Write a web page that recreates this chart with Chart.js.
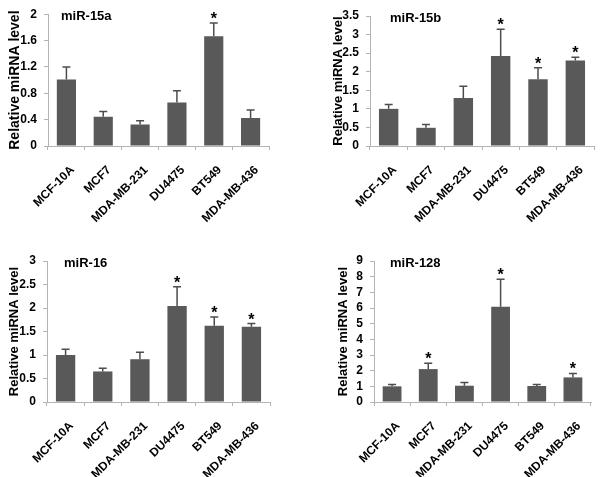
<!DOCTYPE html>
<html>
<head>
<meta charset="utf-8">
<script src="https://cdn.jsdelivr.net/npm/chart.js@4.4.1/dist/chart.umd.min.js"></script>
<style>
    body { margin: 0; background: #fff; }
    #wrap { position: relative; width: 600px; height: 477px; background: #fff; }
    canvas { position: absolute; }
</style>
</head>
<body>
<div id="wrap">
    <canvas id="c15a" width="300" height="240" style="left:0;top:0"></canvas>
    <canvas id="c15b" width="300" height="240" style="left:300px;top:0"></canvas>
    <canvas id="c16" width="300" height="237" style="left:0;top:240px"></canvas>
    <canvas id="c128" width="300" height="237" style="left:300px;top:240px"></canvas>
</div>
<script>
// ========== DATA ==========
const categories = ['MCF-10A', 'MCF7', 'MDA-MB-231', 'DU4475', 'BT549', 'MDA-MB-436'];

const mir15aMean = [1.01, 0.445, 0.325, 0.66, 1.665, 0.425];
const mir15aErr  = [0.19, 0.08, 0.06, 0.18, 0.20, 0.12];
const mir15aSig  = [false, false, false, false, true, false];

const mir15bMean = [1.0, 0.49, 1.29, 2.42, 1.80, 2.30];
const mir15bErr  = [0.12, 0.09, 0.32, 0.72, 0.31, 0.09];
const mir15bSig  = [false, false, false, true, true, true];

const mir16Mean = [1.0, 0.65, 0.91, 2.04, 1.62, 1.60];
const mir16Err  = [0.12, 0.07, 0.15, 0.41, 0.19, 0.07];
const mir16Sig  = [false, false, false, true, true, true];

const mir128Mean = [1.0, 2.1, 1.04, 6.08, 1.02, 1.57];
const mir128Err  = [0.12, 0.38, 0.21, 1.76, 0.10, 0.25];
const mir128Sig  = [false, true, false, true, false, true];

const yMax  = [2, 3.5, 3, 9];
const yStep = [0.4, 0.5, 0.5, 1];

const FONT = "'Liberation Sans', Arial, sans-serif";
const BAR = '#595959';
const AXIS = '#b3b3b3';

// draws error bars, asterisks and the panel name
function marksPlugin(err, sig, name, nameOffset) {
    return {
        id: 'marks',
        afterDatasetsDraw(chart) {
            const ctx = chart.ctx;
            const meta = chart.getDatasetMeta(0);
            const y = chart.scales.y;
            const data = chart.data.datasets[0].data;
            ctx.save();
            ctx.strokeStyle = '#4d4d4d';
            ctx.lineWidth = 1.5;
            meta.data.forEach((bar, i) => {
                const top = y.getPixelForValue(data[i] + err[i]);
                ctx.beginPath();
                ctx.moveTo(bar.x, bar.y);
                ctx.lineTo(bar.x, top);
                ctx.moveTo(bar.x - 4, top);
                ctx.lineTo(bar.x + 4, top);
                ctx.stroke();
                if (sig[i]) {
                    ctx.fillStyle = '#000';
                    ctx.font = `bold 16px ${FONT}`;
                    ctx.textAlign = 'center';
                    ctx.textBaseline = 'alphabetic';
                    ctx.fillText('*', bar.x, top + 1);
                }
            });
            ctx.fillStyle = '#000';
            ctx.font = `bold 13px ${FONT}`;
            ctx.textAlign = 'left';
            ctx.textBaseline = 'middle';
            ctx.fillText(name, chart.chartArea.left + nameOffset, chart.chartArea.top + 2);
            ctx.restore();
        }
    };
}

function makePanel(id, mean, err, sig, name, idx, box) {
    const canvas = document.getElementById(id);
    return new Chart(canvas, {
        type: 'bar',
        data: {
            labels: categories,
            datasets: [{
                data: mean,
                backgroundColor: BAR,
                borderWidth: 0,
                barPercentage: 0.52,
                categoryPercentage: 1
            }]
        },
        options: {
            responsive: false,
            animation: false,
            devicePixelRatio: 1,
            layout: {
                padding: { left: box.padLeft, right: box.padRight, top: box.top, bottom: 0 }
            },
            plugins: {
                legend: { display: false },
                tooltip: { enabled: false }
            },
            scales: {
                x: {
                    afterFit: s => { s.height = box.xHeight; },
                    border: { color: AXIS, width: 1 },
                    grid: { display: true, drawOnChartArea: false, drawTicks: true, tickLength: 4, color: AXIS, offset: true },
                    ticks: {
                        color: '#000',
                        font: { family: FONT, size: 12, weight: 'bold' },
                        minRotation: 45,
                        maxRotation: 45,
                        autoSkip: false,
                        padding: 13,
                        labelOffset: 6
                    }
                },
                y: {
                    min: 0,
                    max: yMax[idx],
                    afterFit: s => { s.width = box.yWidth; },
                    border: { color: AXIS, width: 1 },
                    grid: { display: true, drawOnChartArea: false, drawTicks: true, tickLength: 4, color: AXIS },
                    ticks: {
                        stepSize: yStep[idx],
                        autoSkip: false,
                        color: '#000',
                        padding: 7,
                        font: { family: FONT, size: 12, weight: 'bold' },
                        callback: v => String(Math.round(v * 100) / 100)
                    },
                    title: {
                        display: true,
                        text: 'Relative miRNA level',
                        color: '#000',
                        font: { family: FONT, size: box.titleSize, weight: 'bold' },
                        padding: { top: 4, bottom: 2 }
                    }
                }
            }
        },
        plugins: [marksPlugin(err, sig, name, box.nameOffset)]
    });
}

makePanel('c15a', mir15aMean, mir15aErr, mir15aSig, 'miR-15a', 0,
    { padLeft: 3, yWidth: 45, padRight: 31, top: 14, xHeight: 94, titleSize: 14, nameOffset: 13 });
makePanel('c15b', mir15bMean, mir15bErr, mir15bSig, 'miR-15b', 1,
    { padLeft: 27, yWidth: 43, padRight: 6, top: 16, xHeight: 94, titleSize: 13, nameOffset: 20 });
makePanel('c16', mir16Mean, mir16Err, mir16Sig, 'miR-16', 2,
    { padLeft: 3, yWidth: 44, padRight: 30, top: 21, xHeight: 75, titleSize: 13, nameOffset: 17 });
makePanel('c128', mir128Mean, mir128Err, mir128Sig, 'miR-128', 3,
    { padLeft: 32, yWidth: 42, padRight: 9, top: 21, xHeight: 75, titleSize: 13, nameOffset: 16 });
</script>
</body>
</html>
